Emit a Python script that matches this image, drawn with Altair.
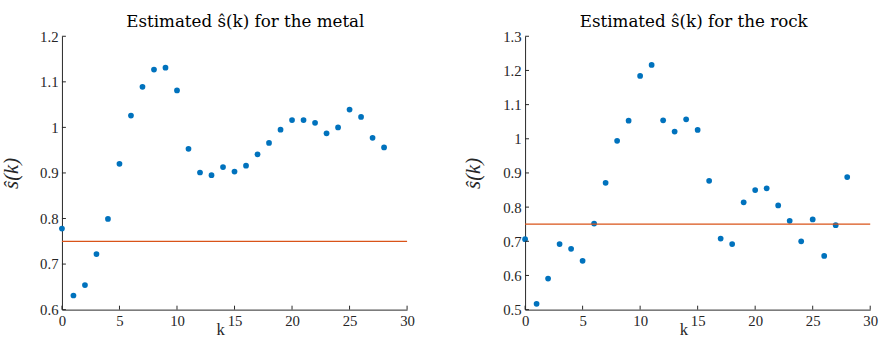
import altair as alt
import pandas as pd

k = list(range(29))
metal = [0.778, 0.631, 0.654, 0.722, 0.799, 0.920, 1.026, 1.089, 1.127, 1.131,
         1.081, 0.953, 0.901, 0.895, 0.913, 0.903, 0.916, 0.941, 0.966, 0.995,
         1.016, 1.016, 1.010, 0.987, 1.000, 1.039, 1.023, 0.977, 0.956]
rock = [0.706, 0.517, 0.591, 0.692, 0.678, 0.643, 0.752, 0.871, 0.994, 1.053,
        1.184, 1.216, 1.054, 1.021, 1.057, 1.026, 0.877, 0.708, 0.692, 0.814,
        0.850, 0.855, 0.805, 0.760, 0.700, 0.764, 0.657, 0.747, 0.888]
threshold = 0.75
x_ticks = [0, 5, 10, 15, 20, 25, 30]
metal_yticks = [0.6, 0.7, 0.8, 0.9, 1.0, 1.1, 1.2]
rock_yticks = [0.5, 0.6, 0.7, 0.8, 0.9, 1.0, 1.1, 1.2, 1.3]

W, H = 351, 278
AX = "#262626"
FONT = "Times New Roman, Liberation Serif, Times, serif"
TFONT = "DejaVu Serif, serif"


def panel(values, yticks, title, ttlx, tdx):
    df = pd.DataFrame({"k": k, "s": values})
    ydom = [yticks[0], yticks[-1]]
    xs = alt.Scale(domain=[0, 30], nice=False, zero=False)
    ys = alt.Scale(domain=ydom, nice=False, zero=False)
    xax = alt.Axis(values=x_ticks, title="k", tickSize=0, labelPadding=4,
                   grid=False, labelOverlap=False, labelFlush=False,
                   labelFont=FONT, titleFont=FONT,
                   titleX=161, titleY=25, titleBaseline="alphabetic",
                   titleFontSize=17, titleFontWeight="normal")
    yax = alt.Axis(values=yticks, format="~g", title="ŝ(k)", tickSize=0,
                   grid=False, labelOverlap=False, labelFlush=False,
                   labelFont=FONT, titleFont=FONT, titleFontStyle="italic",
                   labelPadding=4, titleX=ttlx, titleFontSize=21,
                   titleFontWeight="normal")
    pts = alt.Chart(df).mark_circle(size=34, opacity=1, color="#0072BD").encode(
        x=alt.X("k:Q", scale=xs, axis=xax),
        y=alt.Y("s:Q", scale=ys, axis=yax),
    )
    line = alt.Chart(pd.DataFrame({"x0": [0], "x1": [30], "y": [threshold]})).mark_rule(
        color="#D95319", strokeWidth=1.2).encode(
        x=alt.X("x0:Q", scale=xs, axis=xax), x2="x1:Q",
        y=alt.Y("y:Q", scale=ys, axis=yax))
    yt = alt.Chart(pd.DataFrame({"v": yticks})).mark_rule(color=AX, strokeWidth=1).encode(
        y=alt.Y("v:Q", scale=ys, axis=yax), x=alt.value(0), x2=alt.value(4))
    xt = alt.Chart(pd.DataFrame({"v": x_ticks})).mark_rule(color=AX, strokeWidth=1).encode(
        x=alt.X("v:Q", scale=xs, axis=xax), y=alt.value(H), y2=alt.value(H - 4))
    return alt.layer(pts, line, yt, xt).properties(
        width=W, height=H,
        title=alt.TitleParams(title, fontSize=17, font=TFONT, fontWeight="normal",
                              color="black", offset=-2, anchor="middle", dx=tdx))


left = panel(metal, metal_yticks, "Estimated ŝ(k) for the metal", -41, 11)
right = panel(rock, rock_yticks, "Estimated ŝ(k) for the rock", -42, -4)

chart = alt.hconcat(left, right, spacing=120, bounds="flush").properties(
    padding={"left": 1, "top": 11, "right": 5, "bottom": 0}
).configure_view(
    stroke=None
).configure_axis(
    labelFont=FONT, titleFont=FONT, labelFontSize=15, labelColor=AX, titleColor=AX,
    domainColor=AX, domainWidth=1, grid=False
)

chart.save("out.html", embed_options={"renderer": "svg", "actions": False})
